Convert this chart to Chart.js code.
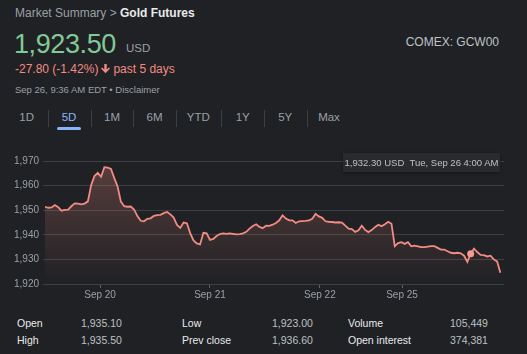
<!DOCTYPE html>
<html>
<head>
<meta charset="utf-8">
<script src="https://cdn.jsdelivr.net/npm/chart.js@4.4.0/dist/chart.umd.min.js"></script>
<style>
  body{margin:0;background:#202124;font-family:"Liberation Sans",Arial,sans-serif;width:527px;height:354px;overflow:hidden;position:relative}
  .abs{position:absolute;white-space:nowrap}
  .crumb{left:15px;top:6px;font-size:12px;color:#9aa0a6}
  .crumb b{color:#e8eaed}
  .price{left:14px;top:29px;font-size:27px;letter-spacing:-0.4px;color:#81c995}
  .usd{left:126px;top:42px;font-size:11.5px;color:#9aa0a6}
  .chg{left:15px;top:62px;font-size:12px;color:#f28b82}
  .chg svg{vertical-align:-1px;margin:0 3px 0 3px}
  .ts{left:15px;top:84px;font-size:9.5px;color:#9aa0a6}
  .ex{right:28px;top:35px;font-size:12px;color:#bdc1c6}
  .tab{top:111px;font-size:11.5px;color:#9aa0a6;transform:translateX(-50%)}
  .tab.on{color:#8ab4f8}
  .sep{top:110px;width:1px;height:17px;background:#3c4043}
  .ul{left:57px;top:127px;width:24px;height:3px;border-radius:2px;background:#8ab4f8}
  .tip{left:343px;top:153px;width:157px;height:19px;line-height:19px;background:#292a2d;color:#bdc1c6;font-size:9.5px;text-align:center;box-shadow:0 1px 3px rgba(0,0,0,.4)}
  .st{font-size:10.5px;color:#e8eaed}
  .sv{font-size:10.5px;color:#bdc1c6}
  #wrap{position:absolute;left:0;top:140px;width:527px;height:170px}
</style>
</head>
<body>
<div class="abs crumb">Market Summary &gt; <b>Gold Futures</b></div>
<div class="abs price">1,923.50</div>
<div class="abs usd">USD</div>
<div class="abs chg">-27.80 (-1.42%)<svg width="9" height="10" viewBox="0 0 9 10"><path d="M3.3 0h2.4v5.6l2.2-2.2 1.1 1.2-4.5 4.6L0 4.6l1.1-1.2 2.2 2.2z" fill="#f28b82"/></svg>past 5 days</div>
<div class="abs ts">Sep 26, 9:36 AM EDT &bull; Disclaimer</div>
<div class="abs ex">COMEX: GCW00</div>
<div id="tabs"></div>
<div id="wrap"><canvas id="c" width="527" height="170"></canvas></div>
<div class="abs tip" id="tip"></div>
<div id="stats"></div>
<script>
// 5-day gold futures prices, evenly sampled
const prices = [
  1951.4,1951.0,1951.1,1952.1,1951.2,1949.8,1950.1,1950.2,1951.6,1952.8,
  1952.7,1952.4,1952.7,1953.6,1960.2,1963.9,1965.2,1963.6,1967.5,1967.3,
  1966.8,1963.1,1959.6,1953.5,1951.6,1951.4,1951.5,1950.3,1947.6,1945.7,
  1945.5,1946.5,1946.7,1947.7,1948.0,1948.1,1948.8,1949.3,1948.3,1947.0,
  1944.0,1942.8,1945.0,1944.7,1940.7,1937.7,1936.5,1936.1,1940.8,1940.6,
  1937.9,1938.3,1939.5,1940.3,1940.6,1940.4,1940.6,1940.4,1940.2,1940.3,
  1940.6,1941.2,1942.5,1943.6,1944.3,1943.2,1942.7,1943.7,1943.6,1944.1,
  1944.8,1945.9,1947.9,1946.6,1945.9,1945.9,1944.8,1945.5,1945.6,1945.7,
  1945.9,1946.5,1948.5,1947.5,1946.9,1945.5,1945.3,1945.2,1945.0,1945.1,
  1945.0,1943.7,1942.5,1942.3,1941.2,1941.8,1943.7,1942.0,1941.1,1941.9,
  1943.1,1944.1,1943.5,1944.3,1945.3,1944.5,1935.4,1936.6,1937.0,1936.3,
  1937.0,1935.3,1935.6,1935.3,1935.0,1935.0,1935.2,1935.4,1935.4,1934.7,
  1934.0,1934.0,1933.3,1932.7,1932.5,1932.7,1932.5,1931.5,1929.0,1932.3,
  1934.4,1933.0,1931.8,1931.7,1931.2,1931.5,1930.0,1929.2,1924.6
];
const dayTickIndex = [16.7, 50, 83.3, 108.2];
const dayLabels = ['Sep 20', 'Sep 21', 'Sep 22', 'Sep 25'];
const yTicks = [1920, 1930, 1940, 1950, 1960, 1970];
const hoverIndex = 129;
const hoverTime = 'Tue, Sep 26 4:00 AM';

const tabs = ['1D','5D','1M','6M','YTD','1Y','5Y','Max'];
const tabX = [26.7, 69, 112, 154.5, 198.3, 242.7, 285.2, 329];
const sepX = [48, 91, 133, 176, 221, 264, 307];
const statLabels = [['Open','High'],['Low','Prev close'],['Volume','Open interest']];
const statValues = [['1,935.10','1,935.50'],['1,923.00','1,936.60'],['105,449','374,381']];

let h = '';
tabs.forEach((t,i)=>{h += `<div class="abs tab${t==='5D'?' on':''}" style="left:${tabX[i]}px">${t}</div>`;});
sepX.forEach(x=>{h += `<div class="abs sep" style="left:${x}px"></div>`;});
h += '<div class="abs ul"></div>';
document.getElementById('tabs').innerHTML = h;

const colL = [17, 182, 348], colV = [81, 272, 450], rowY = [317, 334];
h = '';
statLabels.forEach((col,c)=>col.forEach((l,r)=>{
  h += `<div class="abs st" style="left:${colL[c]}px;top:${rowY[r]}px">${l}</div>`;
  h += `<div class="abs sv" style="left:${colV[c]}px;top:${rowY[r]}px">${statValues[c][r]}</div>`;
}));
document.getElementById('stats').innerHTML = h;

document.getElementById('tip').textContent =
  prices[hoverIndex].toLocaleString('en-US',{minimumFractionDigits:2}) + ' USD\u00a0\u00a0' + hoverTime;

Chart.defaults.font.family = '"Liberation Sans", Arial, sans-serif';
Chart.defaults.font.size = 10;
Chart.defaults.color = '#9aa0a6';

new Chart(document.getElementById('c'), {
  type: 'line',
  data: {
    datasets: [{
      data: prices.map((p,i)=>({x:i, y:p})),
      borderColor: '#f28b82',
      borderWidth: 1.8,
      tension: 0,
      fill: 'start',
      backgroundColor: (ctx)=>{
        const a = ctx.chart.chartArea;
        if (!a) return 'rgba(242,139,130,0.15)';
        const g = ctx.chart.ctx.createLinearGradient(0, a.top, 0, a.bottom);
        g.addColorStop(0, 'rgba(242,139,130,0.28)');
        g.addColorStop(1, 'rgba(242,139,130,0)');
        return g;
      },
      pointRadius: (ctx)=>ctx.dataIndex===hoverIndex ? 3.5 : 0,
      pointBackgroundColor: '#f49a92',
      pointBorderWidth: 0
    }]
  },
  options: {
    responsive: false,
    animation: false,
    devicePixelRatio: 1,
    layout: {padding: {top: 21, right: 23, bottom: 10, left: 0}},
    plugins: {legend: {display: false}, tooltip: {enabled: false}},
    events: [],
    scales: {
      x: {
        type: 'linear',
        min: -0.6,
        max: 139.1,
        afterBuildTicks: (s)=>{ s.ticks = dayTickIndex.map(v=>({value:v})); },
        afterFit: (s)=>{ s.height = 16; },
        ticks: {
          callback: (v)=>dayLabels[dayTickIndex.indexOf(v)],
          maxRotation: 0,
          autoSkip: false,
          padding: 1,
          color: '#9aa0a6'
        },
        grid: {drawOnChartArea: false, drawTicks: true, tickLength: 4, color: '#5f6368'},
        border: {display: false}
      },
      y: {
        min: 1920,
        max: 1970,
        afterBuildTicks: (s)=>{ s.ticks = yTicks.map(v=>({value:v})); },
        afterFit: (s)=>{ s.width = 43; },
        ticks: {
          padding: 4,
          callback: (v)=>v.toLocaleString('en-US'),
          color: '#9aa0a6'
        },
        grid: {color: '#3c4043', drawTicks: false},
        border: {display: false}
      }
    }
  }
});
</script>
</body>
</html>
